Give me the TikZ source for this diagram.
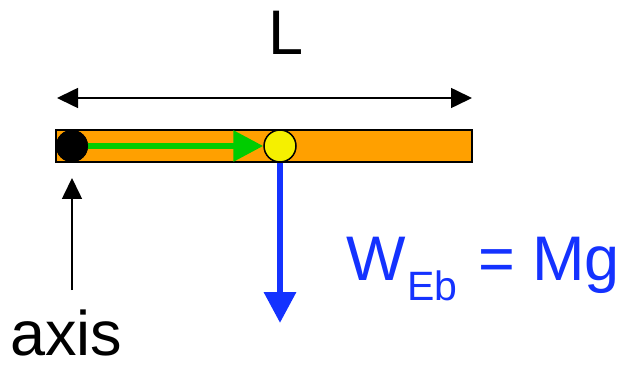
\documentclass[tikz,border=0pt]{standalone}
\usepackage{fontspec}
\setmainfont{Liberation Sans}
\usetikzlibrary{arrows.meta}
\definecolor{barorange}{RGB}{255,160,0}
\definecolor{arrowgreen}{RGB}{0,204,0}
\definecolor{forceblue}{RGB}{20,50,255}
\definecolor{cmyellow}{RGB}{245,240,0}
\tikzset{
  lbl/.style={inner sep=0pt, anchor=base west},
  thinarrow/.style={line width=1.6pt, -{Triangle[length=21pt,width=20pt]}},
}
\begin{document}
\begin{tikzpicture}[x=1pt,y=-1pt]
\useasboundingbox (0,0) rectangle (624,366);
% bar
\draw[line width=1.5pt, fill=barorange] (56,130) rectangle (472,162);
% nodes
\node[circle, fill=black, minimum size=32pt, inner sep=0pt] (pivot) at (72,146) {};
\node[circle, fill=cmyellow, draw=black, line width=1.5pt, minimum size=32pt, inner sep=0pt] (cm) at (280,146) {};
% green arrow
\draw[arrowgreen, line width=6pt, -{Triangle[length=30pt,width=30pt]}] (pivot.center) -- (cm.west);
\node[circle, fill=black, minimum size=32pt, inner sep=0pt] at (pivot) {};
% length arrow
\coordinate (lleft) at (57,98);
\coordinate (lright) at (472,98);
\draw[line width=1.6pt, {Triangle[length=21pt,width=20pt]}-{Triangle[length=21pt,width=20pt]}] (lleft) -- (lright);
\node[lbl] (L) at (268,55) {\fontsize{63}{63}\selectfont L};
% weight arrow
\coordinate (wtip) at (280,323);
\draw[forceblue, line width=6.5pt, -{Triangle[length=31pt,width=31pt]}] (cm.south) -- (wtip);
\node[lbl, text=forceblue] (W) at (346,280) {\fontsize{63}{63}\selectfont W};
\node[lbl, text=forceblue] (Eb) at (407,301) {\fontsize{41}{41}\selectfont Eb};
\node[lbl, text=forceblue] (Mg) at (478,280) {\fontsize{63}{63}\selectfont = Mg};
% axis
\coordinate (axbot) at (72,290);
\coordinate (axtop) at (72,178);
\draw[thinarrow] (axbot) -- (axtop);
\node[lbl] (axis) at (10,355) {\fontsize{63}{63}\selectfont axis};
\end{tikzpicture}
\end{document}
